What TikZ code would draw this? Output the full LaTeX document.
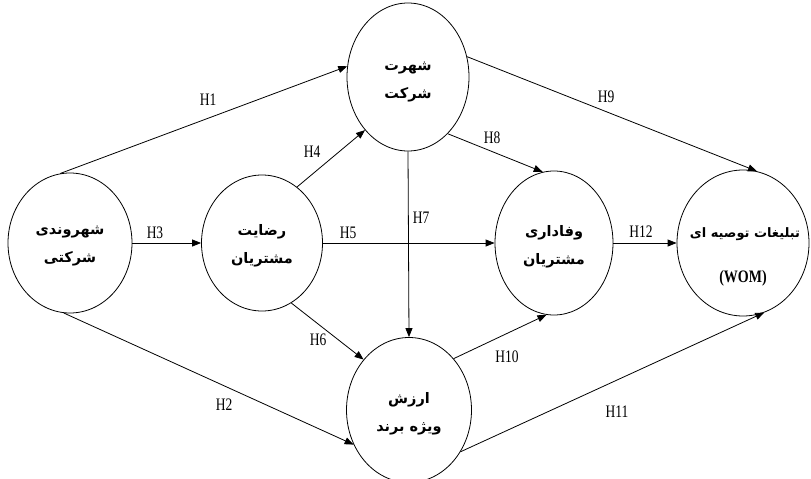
\documentclass[tikz,border=0pt]{standalone}
\usepackage{fontspec}
\setmainfont{Liberation Serif}
\newfontfamily\arabicfont[Script=Arabic]{DejaVu Sans}
\TeXXeTstate=1
\usetikzlibrary{shapes.geometric,arrows.meta}
\newcommand{\hlab}[1]{\scalebox{1}[1.3]{#1}}
\begin{document}
\begin{tikzpicture}[x=1pt,y=-1pt,
  var/.style={draw,ellipse,line width=0.8pt,inner sep=0pt},
  txt/.style={align=center,inner sep=0pt,
    font=\arabicfont\bfseries\fontsize{14.5}{28}\selectfont},
  arr/.style={draw,line width=0.8pt,-{Triangle[length=9pt,width=7pt]}},
  lab/.style={font=\fontsize{13.5}{13.5}\selectfont,inner sep=1pt}]
\useasboundingbox (0,0) rectangle (811,479);
\node[var,minimum width=124pt,minimum height=140pt] (A) at (70,243) {};
\node[var,minimum width=121pt,minimum height=136pt] (B) at (262,243) {};
\node[var,minimum width=122pt,minimum height=148pt] (C) at (408,77) {};
\node[var,minimum width=125pt,minimum height=145pt] (D) at (409,410) {};
\node[var,minimum width=118pt,minimum height=144pt] (E) at (554,243) {};
\node[var,minimum width=132pt,minimum height=146pt] (F) at (743,243) {};

\node[txt] (ta) at (70,246) {\beginR شهروندی\endR\\\beginR شرکتی\endR};
\node[txt] (tb) at (262,246) {\beginR رضایت\endR\\\beginR مشتریان\endR};
\node[txt] (tc) at (408,82) {\beginR شهرت\endR\\\beginR شرکت\endR};
\node[txt] (td) at (409,414) {\beginR ارزش\endR\\\beginR ویژه برند\endR};
\node[txt] (te) at (554,247) {\beginR وفاداری\endR\\\beginR مشتریان\endR};
\node[txt,font=\arabicfont\bfseries\fontsize{13}{28}\selectfont] (tf1) at (745,234) {\beginR تبلیغات توصیه ای\endR};
\node[font=\bfseries\fontsize{14}{14}\selectfont,inner sep=0pt] (tf2) at (743,278) {\scalebox{1}[1.25]{(WOM)}};

\draw[arr] (A.98) -- (C.170);
\draw[arr] (A.265) -- (D.212);
\draw[arr] (A.0) -- (B.180);
\draw[arr] (B.58) -- (C.231);
\draw[arr] (B.0) -- (E.180);
\draw[arr] (B.296) -- (D.132);
\draw[arr] (C.270) -- (D.90);
\draw[arr] (C.305) -- (E.99);
\draw[arr] (C.19) -- (F.79);
\draw[arr] (D.49) -- (E.264);
\draw[arr] (D.321) -- (F.287);
\draw[arr] (E.0) -- (F.180);

\node[lab] (l1) at (208,100) {\hlab{H1}};
\node[lab] (l2) at (224,405) {\hlab{H2}};
\node[lab] (l3) at (155,233) {\hlab{H3}};
\node[lab] (l4) at (312,152) {\hlab{H4}};
\node[lab] (l5) at (348,233) {\hlab{H5}};
\node[lab] (l6) at (318,340) {\hlab{H6}};
\node[lab] (l7) at (421,218) {\hlab{H7}};
\node[lab] (l8) at (492,138) {\hlab{H8}};
\node[lab] (l9) at (606,97) {\hlab{H9}};
\node[lab] (l10) at (507,357) {\hlab{H10}};
\node[lab] (l11) at (617,412) {\hlab{H11}};
\node[lab] (l12) at (641,232) {\hlab{H12}};
\end{tikzpicture}
\end{document}
